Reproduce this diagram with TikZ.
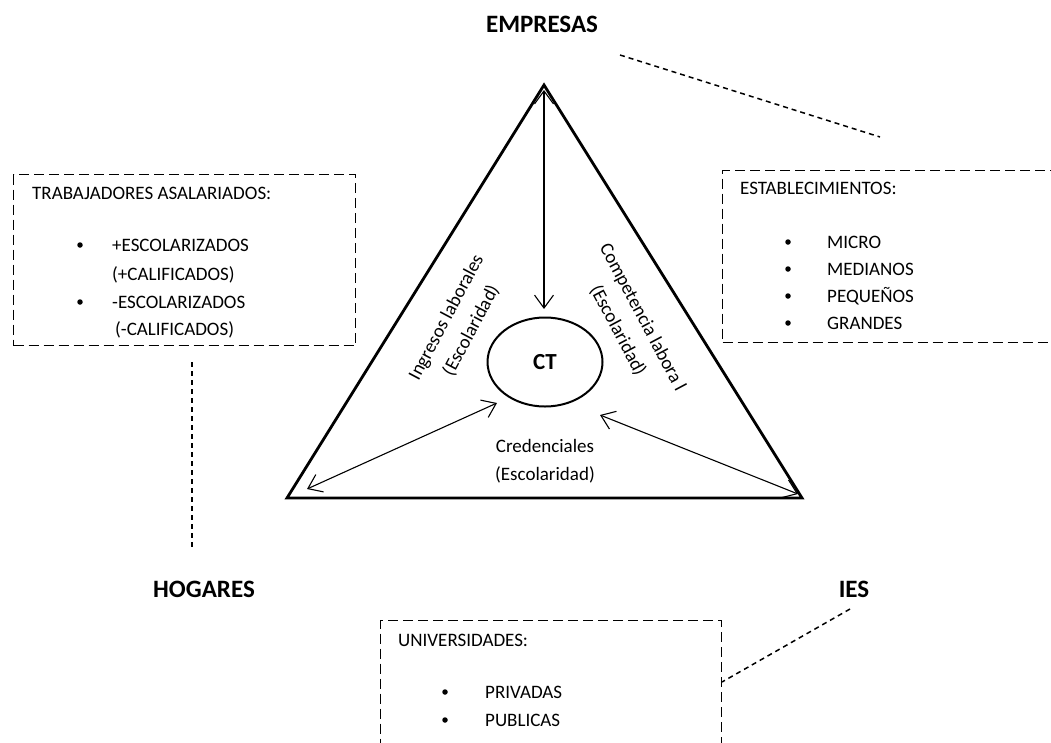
\documentclass[tikz,border=0pt]{standalone}
\usepackage{fontspec}
\setmainfont{Carlito}
\usetikzlibrary{arrows.meta,shapes.geometric}

\begin{document}
\begin{tikzpicture}[x=1pt,y=-1pt,
  frame/.style={draw, dash pattern=on 10pt off 5pt, line width=1.3pt, inner sep=0pt, anchor=north west},
  link/.style={draw, dash pattern=on 5pt off 4pt, line width=1.5pt},
  item/.style={anchor=base west, inner sep=0pt, font=\fontsize{19}{23}\selectfont},
  title/.style={inner sep=0pt, font=\bfseries\fontsize{25}{30}\selectfont},
  side/.style={align=center, inner sep=0pt, font=\fontsize{19}{28}\selectfont},
  flow/.style={line width=1.1pt, {Straight Barb[length=13pt,width=19pt]}-{Straight Barb[length=13pt,width=19pt]}},
  dot/.style={circle, fill, inner sep=0pt, minimum size=5.5pt}
]
\useasboundingbox (0,0) rectangle (1051,742);
\clip (0,0) rectangle (1051,742);

% corner labels
\node[title] (empresas) at (542,24) {EMPRESAS};
\node[title] (hogares) at (204,589) {HOGARES};
\node[title] (ies) at (854,589) {IES};

% triangle
\coordinate (apex) at (544,85);
\coordinate (bl) at (287,498);
\coordinate (br) at (802,498);
\draw[line width=2.8pt, line join=miter] (apex) -- (bl) -- (br) -- cycle;

% central ellipse
\node[ellipse, draw, line width=2pt, minimum width=115pt, minimum height=89pt, inner sep=0pt,
      font=\bfseries\fontsize{23}{27}\selectfont] (ct) at (545,362) {CT};

% arrows between the corners and the centre
\coordinate (v1) at (544,90);
\coordinate (v2) at (544,309);
\coordinate (l1) at (307,489);
\coordinate (l2) at (497,403);
\coordinate (r1) at (798,494);
\coordinate (r2) at (600,415);
\draw[flow] (v1) -- (v2);
\draw[flow] (l1) -- (l2);
\draw[flow] (r1) -- (r2);

% labels inside the triangle
\node[side, rotate=62] (ingresos) at (459,324) {Ingresos laborales\\(Escolaridad)};
\node[side, rotate=-62] (competencia) at (630,324) {Competencia labora l\\(Escolaridad)};
\node[side] (credenciales) at (545,461) {Credenciales\\(Escolaridad)};

% left box: households
\node[frame, minimum width=342pt, minimum height=171pt] (lbox) at (13,174) {};
\node[item] (lh) at (32,199) {TRABAJADORES ASALARIADOS:};
\node[dot] (lb1) at (80,245) {};
\node[item] (l1t) at (112,251) {+ESCOLARIZADOS};
\node[item] (l2t) at (112,280) {(+CALIFICADOS)};
\node[dot] (lb2) at (80,302) {};
\node[item] (l3t) at (112,308) {-ESCOLARIZADOS};
\node[item] (l4t) at (115,335) {(-CALIFICADOS)};

% right box: firms
\node[frame, minimum width=360pt, minimum height=172pt] (rbox) at (722,170) {};
\node[item] (rh) at (740,194) {ESTABLECIMIENTOS:};
\node[dot] (rb1) at (788,242) {};
\node[item] (r1t) at (827,248) {MICRO};
\node[dot] (rb2) at (788,269) {};
\node[item] (r2t) at (827,275) {MEDIANOS};
\node[dot] (rb3) at (788,296) {};
\node[item] (r3t) at (827,302) {PEQUEÑOS};
\node[dot] (rb4) at (788,323) {};
\node[item] (r4t) at (827,329) {GRANDES};

% bottom box: universities
\node[frame, minimum width=341pt, minimum height=160pt] (bbox) at (380,620) {};
\node[item] (bh) at (398,646) {UNIVERSIDADES:};
\node[dot] (bb1) at (445,692) {};
\node[item] (b1t) at (485,698) {PRIVADAS};
\node[dot] (bb2) at (445,720) {};
\node[item] (b2t) at (485,726) {PUBLICAS};

% dashed leaders
\coordinate (e1) at (620,55);
\coordinate (e2) at (880,137);
\draw[link] (e1) -- (e2);
\coordinate (h1) at (192,362);
\coordinate (h2) at (192,550);
\draw[link] (h1) -- (h2);
\coordinate (i1) at (850,609);
\coordinate (i2) at (722,682);
\draw[link] (i1) -- (i2);
\end{tikzpicture}
\end{document}
